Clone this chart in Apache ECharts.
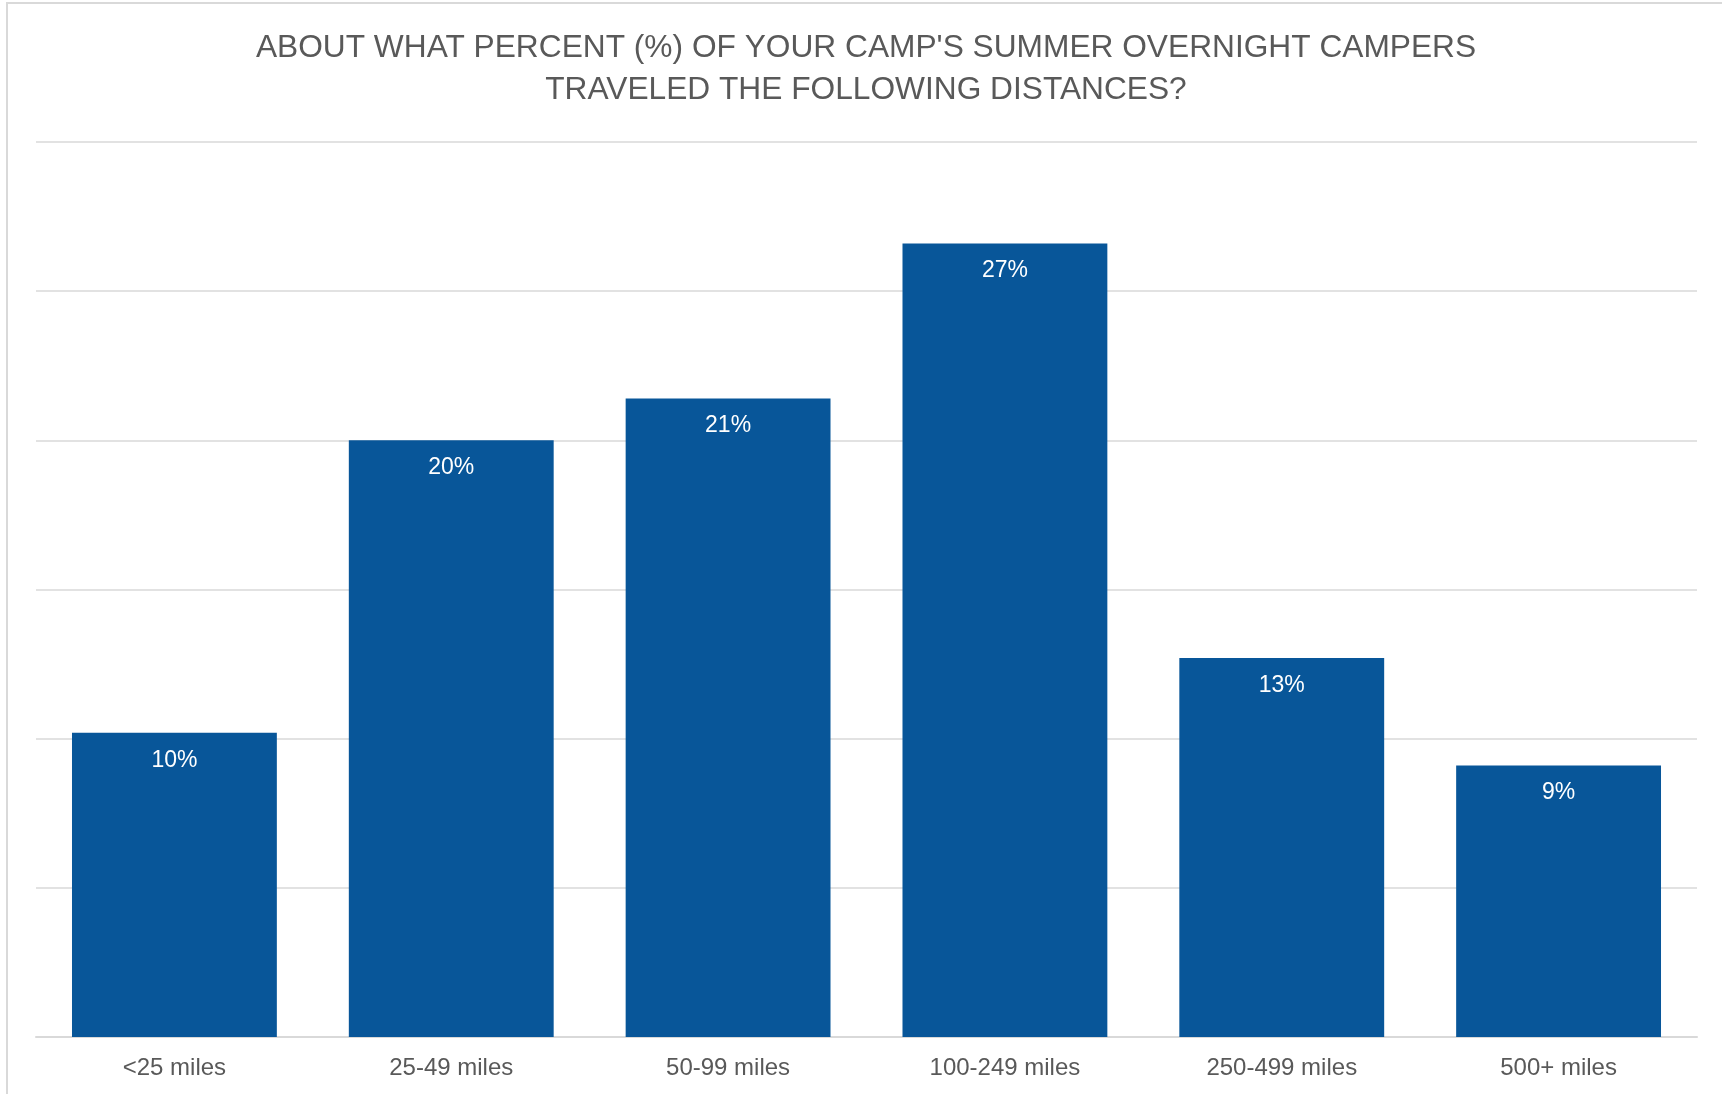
<!DOCTYPE html>
<html>
<head>
<meta charset="utf-8">
<script src="https://cdn.jsdelivr.net/npm/echarts@6/dist/echarts.min.js"></script>
<style>
  html, body { margin: 0; padding: 0; background: #fff; }
  #chart { width: 1722px; height: 1094px; }
</style>
</head>
<body>
<div id="chart"></div>
<script>
// distances and share of campers (%)
var categories = ['<25 miles', '25-49 miles', '50-99 miles', '100-249 miles', '250-499 miles', '500+ miles'];
var percents = [10.2, 20.0, 21.4, 26.6, 12.7, 9.1];
var labelTexts = ['10%', '20%', '21%', '27%', '13%', '9%'];

window.onload = function () {
    var myChart = echarts.init(document.getElementById('chart'));

    var option = {
        backgroundColor: '#fff',
        title: {
            text: "ABOUT WHAT PERCENT (%) OF YOUR CAMP'S SUMMER OVERNIGHT CAMPERS\nTRAVELED THE FOLLOWING DISTANCES?",
            left: 861,
            top: 22,
            textAlign: 'center',
            textStyle: {
                fontFamily: 'Liberation Sans',
                fontSize: 31.7,
                fontWeight: 'normal',
                color: '#595959',
                lineHeight: 42
            }
        },
        // frame of the chart box (top and left edges)
        graphic: [{
            type: 'polyline',
            shape: { points: [[7, 1094], [7, 3], [1722, 3]] },
            style: { stroke: '#d9d9d9', lineWidth: 2, fill: null }
        }],
        grid: {
            left: 36,
            right: 25,
            top: 142,
            bottom: 57
        },
        xAxis: {
            type: 'category',
            data: categories,
            axisTick: { show: false },
            axisLine: { lineStyle: { color: '#d9d9d9', width: 2 } },
            axisLabel: {
                color: '#595959',
                fontFamily: 'Liberation Sans',
                fontSize: 24,
                margin: 19
            }
        },
        yAxis: {
            type: 'value',
            min: 0,
            max: 30,
            interval: 5,
            axisLabel: { show: false },
            axisLine: { show: false },
            axisTick: { show: false },
            splitLine: { lineStyle: { color: '#d9d9d9', width: 1.5 } }
        },
        series: [{
            name: 'percent',
            type: 'bar',
            data: percents,
            barCategoryGap: '26%',
            itemStyle: { color: '#085699' },
            label: {
                show: true,
                position: 'insideTop',
                distance: 16,
                color: '#fff',
                fontFamily: 'Liberation Sans',
                fontSize: 23,
                formatter: function (p) { return labelTexts[p.dataIndex]; }
            }
        }]
    };

    myChart.setOption(option);
};
</script>
</body>
</html>
